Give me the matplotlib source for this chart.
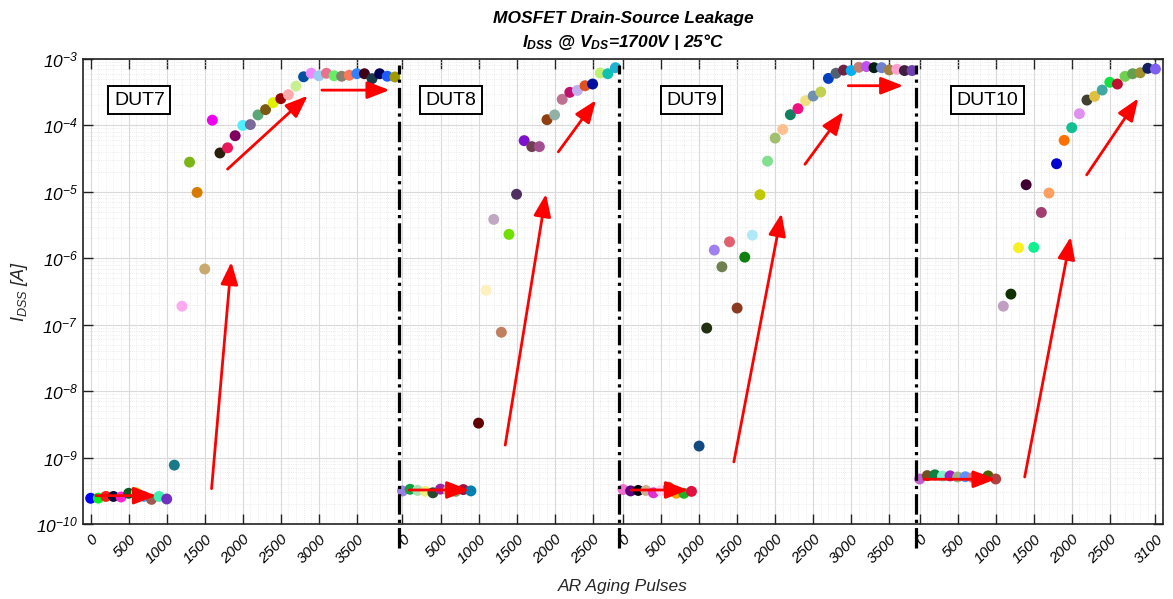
import numpy as np
import matplotlib
matplotlib.use('Agg')
import matplotlib.pyplot as plt
from matplotlib.ticker import FixedLocator, MultipleLocator, LogLocator, NullFormatter
import matplotlib.transforms as mtransforms

plt.rcParams['font.family'] = ['Liberation Sans', 'DejaVu Sans']
plt.rcParams['mathtext.fontset'] = 'custom'
plt.rcParams['mathtext.rm'] = 'Liberation Sans:italic'
plt.rcParams['mathtext.it'] = 'Liberation Sans:italic'
plt.rcParams['mathtext.bf'] = 'Liberation Sans:bold:italic'

# leakage current per DUT, one reading every 100 pulses
duts = ['DUT7', 'DUT8', 'DUT9', 'DUT10']

i7 = [2.44e-10, 2.45e-10, 2.6e-10, 2.6e-10, 2.55e-10, 2.9e-10, 2.95e-10, 2.6e-10, 2.35e-10, 2.6e-10,
      2.38e-10, 7.7e-10, 1.9e-7, 2.8e-5, 9.8e-6, 6.9e-7, 1.2e-4, 3.85e-5, 4.6e-5, 7.0e-5,
      1.0e-4, 1.03e-4, 1.44e-4, 1.73e-4, 2.2e-4, 2.53e-4, 2.9e-4, 3.9e-4, 5.4e-4, 6.1e-4,
      5.6e-4, 6.1e-4, 5.6e-4, 5.5e-4, 5.7e-4, 6.0e-4, 6.0e-4, 5.06e-4, 6.0e-4, 5.5e-4, 5.36e-4]
i8 = [3.14e-10, 3.33e-10, 3.2e-10, 3.1e-10, 2.95e-10, 3.35e-10, 3.2e-10, 3.1e-10, 3.3e-10, 3.15e-10,
      3.3e-9, 3.3e-7, 3.85e-6, 7.7e-8, 2.29e-6, 9.2e-6, 5.9e-5, 4.8e-5, 4.8e-5, 1.22e-4,
      1.44e-4, 2.47e-4, 3.15e-4, 3.37e-4, 3.96e-4, 4.2e-4, 6.15e-4, 6.0e-4, 7.4e-4]
i9 = [3.3e-10, 3.15e-10, 3.2e-10, 3.2e-10, 2.95e-10, 3.2e-10, 3.57e-10, 2.9e-10, 2.9e-10, 3.1e-10,
      1.49e-9, 8.9e-8, 1.33e-6, 7.45e-7, 1.77e-6, 1.78e-7, 1.04e-6, 2.23e-6, 9.05e-6, 2.9e-5,
      6.45e-5, 8.7e-5, 1.45e-4, 1.79e-4, 2.36e-4, 2.77e-4, 3.19e-4, 5.1e-4, 6.1e-4, 6.8e-4,
      6.7e-4, 7.5e-4, 7.7e-4, 7.4e-4, 7.4e-4, 6.85e-4, 7.0e-4, 6.7e-4, 6.7e-4]
i10 = [4.76e-10, 5.35e-10, 5.5e-10, 5.25e-10, 5.3e-10, 5.1e-10, 5.15e-10, 5.0e-10, 4.76e-10, 5.3e-10,
       4.76e-10, 1.9e-7, 2.89e-7, 1.44e-6, 1.28e-5, 1.46e-6, 4.9e-6, 9.6e-6, 2.65e-5, 5.96e-5,
       9.25e-5, 1.5e-4, 2.41e-4, 2.74e-4, 3.41e-4, 4.46e-4, 4.2e-4, 5.48e-4, 6.0e-4, 6.2e-4,
       7.24e-4, 7.07e-4]
currents = [i7, i8, i9, i10]

c7 = ['#0000ff', '#00ee22', '#ff1a1a', '#0a0a3a', '#ff22cc', '#0a5a1a', '#ffd000', '#40a0ff', '#a05a50',
      '#40f0b0', '#7030c0', '#1a7a8a', '#ffaaee', '#7cb518', '#d97b00', '#c8a96e', '#ee00ee', '#2a1f0a',
      '#e8185a', '#800060', '#4ef0ff', '#7a6a9a', '#5aa878', '#7a5a10', '#e0f000', '#990000', '#ffaaaa',
      '#c8f090', '#0050a0', '#ee88ff', '#99ccee', '#e87090', '#66ee66', '#888070', '#ff7755', '#3380ff',
      '#400015', '#1a3a4a', '#000055', '#1a5aff', '#a09a00']
c8 = ['#9a80e0', '#10a040', '#a8e0b0', '#f0f080', '#2a4a30', '#a020a0', '#f0b060', '#8aa070', '#a01040',
      '#0080b0', '#600000', '#fff0c0', '#c0a8c0', '#c08060', '#70e000', '#503060', '#8010d0', '#704050',
      '#a05090', '#904010', '#90b0a8', '#c07090', '#c01070', '#c0b0f0', '#e05020', '#0010a0', '#c0f070',
      '#10c0b0', '#20b0d0']
c9 = ['#f070d0', '#600080', '#000010', '#d0b090', '#e030d0', '#ffd0f0', '#a07020', '#ffa000', '#20b020',
      '#e01040', '#104a80', '#203010', '#a080f0', '#708050', '#e06070', '#8a3a20', '#108010', '#b0e8f8',
      '#c0c800', '#80e090', '#a0c070', '#ffc090', '#108060', '#f01080', '#f0e080', '#7090b0', '#c0d050',
      '#0040c0', '#506070', '#702040', '#00b0f0', '#c08070', '#c050f0', '#002010', '#7080d0', '#a08040',
      '#ffa0d0', '#402040', '#7040b0']
c10 = ['#c060d0', '#705020', '#108040', '#80f0d0', '#a020c0', '#a0b080', '#6090ff', '#e07070', '#8000ff',
       '#506000', '#b04040', '#c0a0c0', '#103000', '#f8f020', '#400030', '#10f090', '#a04070', '#ffa060',
       '#0000d0', '#ff7000', '#10c090', '#e090f0', '#404030', '#e0c040', '#40a8a0', '#10e040', '#c01030',
       '#70d050', '#60a050', '#a09030', '#102060', '#8060f0']
colors = [c7, c8, c9, c10]

# tick labels shown under each DUT section
ticks7 = [0, 500, 1000, 1500, 2000, 2500, 3000, 3500]
ticks8 = [0, 500, 1000, 1500, 2000, 2500]
ticks9 = [0, 500, 1000, 1500, 2000, 2500, 3000, 3500]
ticks10 = [0, 500, 1000, 1500, 2000, 2500, 3100]
dut_ticks = [ticks7, ticks8, ticks9, ticks10]

# trend arrows (pulses, current) -> (pulses, current), local to each DUT
arrows7 = [(70, 2.67e-10, 860, 2.67e-10), (1590, 3.4e-10, 1850, 8.8e-7),
           (1800, 2.2e-5, 2855, 2.8e-4), (3040, 3.4e-4, 3930, 3.4e-4)]
arrows8 = [(88, 3.25e-10, 878, 3.25e-10), (1351, 1.54e-9, 1887, 9.3e-6),
           (2049, 4.0e-5, 2545, 2.4e-4)]
arrows9 = [(110, 3.25e-10, 855, 3.25e-10), (1457, 8.6e-10, 2084, 4.75e-6),
           (2392, 2.6e-5, 2896, 1.6e-4), (2961, 3.96e-4, 3684, 3.96e-4)]
arrows10 = [(56, 4.72e-10, 999, 4.72e-10), (1381, 5.1e-10, 1986, 2.1e-6),
            (2196, 1.8e-5, 2875, 2.56e-4)]
dut_arrows = [arrows7, arrows8, arrows9, arrows10]

label_pos = [640, 637, 900, 889]   # pulses where the DUT name box sits
gap = 100

fig = plt.figure(figsize=(11.73, 5.99), dpi=100)
ax = fig.add_axes([0.0708, 0.1252, 0.9207, 0.7763])

offset = 0
tick_pos, tick_lbl, separators = [], [], []
for k, name in enumerate(duts):
    y = np.array(currents[k])
    x = offset + np.arange(len(y)) * 100
    ax.scatter(x, y, s=62, c=colors[k], edgecolors='none', zorder=3)

    for (x0, y0, x1, y1) in dut_arrows[k]:
        ax.annotate('', xy=(offset + x1, y1), xytext=(offset + x0, y0),
                    arrowprops=dict(arrowstyle='-|>,head_length=0.85,head_width=0.33',
                                    color='red', lw=2, shrinkA=0, shrinkB=0,
                                    mutation_scale=16),
                    zorder=4)

    ax.text(offset + label_pos[k], 2.4e-4, name, fontsize=14, ha='center', va='center',
            bbox=dict(boxstyle='square,pad=0.28', fc='white', ec='black', lw=1.4), zorder=5)

    tick_pos += [offset + t for t in dut_ticks[k]]
    tick_lbl += [str(t) for t in dut_ticks[k]]

    offset = x[-1] + gap
    if k < len(duts) - 1:
        separators.append(offset - gap / 2)

# dash-dot separators between the DUT sections, running down into the tick labels
trans = mtransforms.blended_transform_factory(ax.transData, ax.transAxes)
for sx in separators:
    ax.plot([sx, sx], [-0.052, 0.988], transform=trans, color='black', ls='-.',
            lw=2.3, clip_on=False, zorder=6)

ax.set_yscale('log')
ax.set_ylim(1e-10, 1e-3)
ax.set_xlim(-100, offset - gap + 100)

ax.xaxis.set_major_locator(FixedLocator(tick_pos))
ax.set_xticklabels(tick_lbl, rotation=45, ha='right', va='top', rotation_mode='anchor',
                   fontsize=11, style='italic')
ax.xaxis.set_minor_locator(MultipleLocator(100))
ax.yaxis.set_major_locator(LogLocator(base=10, numticks=20))
ax.yaxis.set_minor_locator(LogLocator(base=10, subs=np.arange(2, 10), numticks=20))
ax.yaxis.set_minor_formatter(NullFormatter())
ax.tick_params(axis='y', labelsize=12.5)
for lbl in ax.get_yticklabels():
    lbl.set_fontstyle('italic')

ax.tick_params(which='major', direction='in', length=7, width=1, top=True, right=True, color='#222222')
ax.tick_params(axis='x', which='major', pad=6)
ax.tick_params(which='minor', length=0, top=True, right=True)

ax.grid(which='major', color='#dadada', lw=0.8)
ax.grid(which='minor', color='#e6e6e6', lw=0.6, ls=':')
ax.set_axisbelow(True)
for sp in ax.spines.values():
    sp.set_linewidth(1.2)
    sp.set_color('#222222')

ax.set_xlabel('AR Aging Pulses', fontsize=12.5, style='italic', color='#262626', labelpad=9)
ax.set_ylabel('$I_{DSS}$ [A]', fontsize=13, style='italic', color='#262626')
ax.yaxis.set_label_coords(-0.049, 0.5)
ax.set_title('MOSFET Drain-Source Leakage\n$\\mathbf{I_{DSS}}$ @ $\\mathbf{V_{DS}}$=1700V | 25°C',
             fontsize=12.5, fontweight='bold', style='italic', pad=9, linespacing=1.4)

fig.savefig('out.png', dpi=100)
